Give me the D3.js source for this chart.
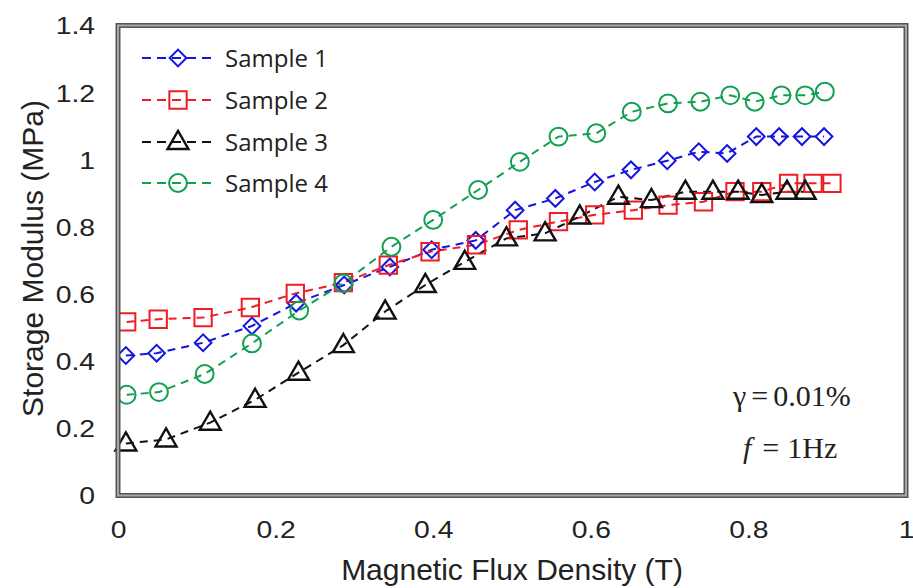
<!DOCTYPE html>
<html>
<head>
<meta charset="utf-8">
<script src="https://cdn.jsdelivr.net/npm/d3@7"></script>
<style>
  html, body { margin: 0; padding: 0; background: #fff; }
  svg { display: block; }
</style>
</head>
<body>
<svg id="chart" width="913" height="588"></svg>
<script>
// Storage modulus vs magnetic flux density for four samples
const seriesNames = ["Sample 1", "Sample 2", "Sample 3", "Sample 4"];
const seriesColors = ["#1515e0", "#ee1c24", "#111111", "#10a050"];
const seriesShapes = ["diamond", "square", "triangle", "circle"];

const s1x = [0.010, 0.049, 0.108, 0.170, 0.226, 0.287, 0.345, 0.398, 0.454, 0.504, 0.555, 0.605, 0.651, 0.697, 0.737, 0.773, 0.810, 0.839, 0.868, 0.896];
const s1y = [0.417, 0.424, 0.455, 0.505, 0.573, 0.627, 0.681, 0.732, 0.760, 0.850, 0.885, 0.934, 0.970, 0.997, 1.024, 1.019, 1.069, 1.069, 1.069, 1.069];

const s2x = [0.011, 0.051, 0.108, 0.168, 0.225, 0.286, 0.343, 0.396, 0.455, 0.508, 0.559, 0.605, 0.654, 0.698, 0.743, 0.783, 0.817, 0.851, 0.882, 0.906];
const s2y = [0.517, 0.525, 0.530, 0.560, 0.602, 0.634, 0.686, 0.726, 0.747, 0.791, 0.816, 0.836, 0.850, 0.865, 0.875, 0.905, 0.905, 0.930, 0.930, 0.930];

const s3x = [0.010, 0.061, 0.117, 0.174, 0.229, 0.286, 0.339, 0.390, 0.440, 0.493, 0.542, 0.586, 0.635, 0.677, 0.720, 0.755, 0.787, 0.817, 0.849, 0.872];
const s3y = [0.155, 0.167, 0.217, 0.285, 0.366, 0.448, 0.548, 0.627, 0.696, 0.766, 0.781, 0.831, 0.890, 0.880, 0.905, 0.905, 0.905, 0.895, 0.905, 0.905];

const s4x = [0.011, 0.052, 0.110, 0.170, 0.230, 0.286, 0.347, 0.400, 0.457, 0.510, 0.559, 0.607, 0.652, 0.698, 0.739, 0.777, 0.808, 0.842, 0.872, 0.897];
const s4y = [0.300, 0.308, 0.362, 0.453, 0.551, 0.632, 0.741, 0.821, 0.910, 0.994, 1.069, 1.079, 1.143, 1.168, 1.173, 1.192, 1.173, 1.192, 1.192, 1.203];

const xTicks = [0, 0.2, 0.4, 0.6, 0.8, 1];
const yTicks = [0, 0.2, 0.4, 0.6, 0.8, 1, 1.2, 1.4];
const xTitle = "Magnetic Flux Density (T)";
const yTitle = "Storage Modulus (MPa)";

const xs = [s1x, s2x, s3x, s4x];
const ys = [s1y, s2y, s3y, s4y];
const series = seriesNames.map((name, i) => ({
  name, color: seriesColors[i], shape: seriesShapes[i],
  points: xs[i].map((x, j) => ({ x, y: ys[i][j] }))
}));

const svg = d3.select("#chart");
const plotLeft = 118, plotRight = 906, plotTop = 25.5, plotBottom = 495.5;

const x = d3.scaleLinear().domain([0, 1]).range([plotLeft, plotRight]);
const y = d3.scaleLinear().domain([0, 1.4]).range([plotBottom, plotTop]);

// Axes: labels only, no tick marks or domain line
const tickFont = "'Liberation Sans', Arial, sans-serif";
const gx = svg.append("g")
  .attr("transform", `translate(0,${plotBottom})`)
  .call(d3.axisBottom(x).tickValues(xTicks).tickSize(0).tickFormat(d3.format("")));
gx.select(".domain").remove();
gx.selectAll("text")
  .attr("y", 42.5).attr("dy", 0)
  .attr("transform", "scale(1.18,1)")
  .style("font-family", tickFont).style("font-size", "24px").attr("fill", "#222");

const gy = svg.append("g")
  .attr("transform", `translate(${plotLeft},0)`)
  .call(d3.axisLeft(y).tickValues(yTicks).tickSize(0).tickFormat(d3.format("")));
gy.select(".domain").remove();
gy.selectAll("text")
  .attr("x", -19.5).attr("dy", "0.35em")
  .attr("transform", "scale(1.18,1)")
  .style("font-family", tickFont).style("font-size", "24px").attr("fill", "#222");

// Axis titles
svg.append("text")
  .attr("x", (plotLeft + plotRight) / 2).attr("y", 580)
  .attr("text-anchor", "middle")
  .style("font-family", tickFont).style("font-size", "30px").attr("fill", "#222")
  .text(xTitle);
svg.append("text")
  .attr("transform", `translate(43,${(plotTop + plotBottom) / 2 - 2}) rotate(-90)`)
  .attr("text-anchor", "middle")
  .style("font-family", tickFont).style("font-size", "30px").attr("fill", "#222")
  .text(yTitle);

// Marker path generators
const symbolFor = {
  diamond: d3.symbol().type(d3.symbolSquare).size(140),
  square: d3.symbol().type(d3.symbolSquare).size(300),
  triangle: d3.symbol().type(d3.symbolTriangle).size(190),
  circle: d3.symbol().type(d3.symbolCircle).size(250)
};
const markerTransform = (shape, px, py) =>
  shape === "diamond" ? `translate(${px},${py}) rotate(45)` :
  shape === "triangle" ? `translate(${px},${py + 1})` :
  `translate(${px},${py})`;

const line = d3.line().x(d => x(d.x)).y(d => y(d.y));

const plot = svg.append("g");
series.forEach(s => {
  plot.append("path")
    .datum(s.points)
    .attr("d", line)
    .attr("fill", "none")
    .attr("stroke", s.color)
    .attr("stroke-width", 2)
    .attr("stroke-dasharray", "8,6");
});
series.forEach(s => {
  plot.selectAll(null)
    .data(s.points)
    .enter().append("path")
    .attr("d", symbolFor[s.shape]())
    .attr("transform", d => markerTransform(s.shape, x(d.x), y(d.y)))
    .attr("fill", "none")
    .attr("stroke", s.color)
    .attr("stroke-width", s.shape === "triangle" ? 2.4 : 2);
});

// Double-line frame around the plot area
svg.append("rect")
  .attr("x", plotLeft).attr("y", plotTop)
  .attr("width", plotRight - plotLeft).attr("height", plotBottom - plotTop)
  .attr("fill", "none").attr("stroke", "#555").attr("stroke-width", 5);
svg.append("rect")
  .attr("x", plotLeft).attr("y", plotTop)
  .attr("width", plotRight - plotLeft).attr("height", plotBottom - plotTop)
  .attr("fill", "none").attr("stroke", "#a8a8a8").attr("stroke-width", 2);

// Legend
const legend = svg.append("g");
const legendRows = [58, 100, 142, 183];
series.forEach((s, i) => {
  const row = legend.append("g").attr("transform", `translate(0,${legendRows[i]})`);
  row.append("line")
    .attr("x1", 142).attr("x2", 214).attr("y1", 0).attr("y2", 0)
    .attr("stroke", s.color).attr("stroke-width", 2)
    .attr("stroke-dasharray", "9,6");
  row.append("path")
    .attr("d", symbolFor[s.shape]())
    .attr("transform", markerTransform(s.shape, 178, 0))
    .attr("fill", "none")
    .attr("stroke", s.color)
    .attr("stroke-width", s.shape === "triangle" ? 2.4 : 2);
  row.append("text")
    .attr("x", 225).attr("y", 0).attr("dy", "0.36em")
    .style("font-family", "'Open Sans', sans-serif").style("font-size", "24px")
    .attr("fill", "#222")
    .text(s.name);
});

// Test conditions
const noteFont = "'Liberation Serif', 'Times New Roman', serif";
const note1 = svg.append("text")
  .attr("x", 733).attr("y", 406)
  .style("font-family", noteFont).style("font-size", "30px").attr("fill", "#222");
note1.append("tspan").text("γ");
note1.append("tspan").attr("dx", 5).text("=");
note1.append("tspan").attr("dx", 5).text("0.01%");

const note2 = svg.append("text")
  .attr("x", 743).attr("y", 458)
  .style("font-family", noteFont).style("font-size", "30px").attr("fill", "#222");
note2.append("tspan").style("font-style", "italic").text("f");
note2.append("tspan").attr("dx", 11).text("=");
note2.append("tspan").attr("dx", 8).text("1Hz");
</script>
</body>
</html>
